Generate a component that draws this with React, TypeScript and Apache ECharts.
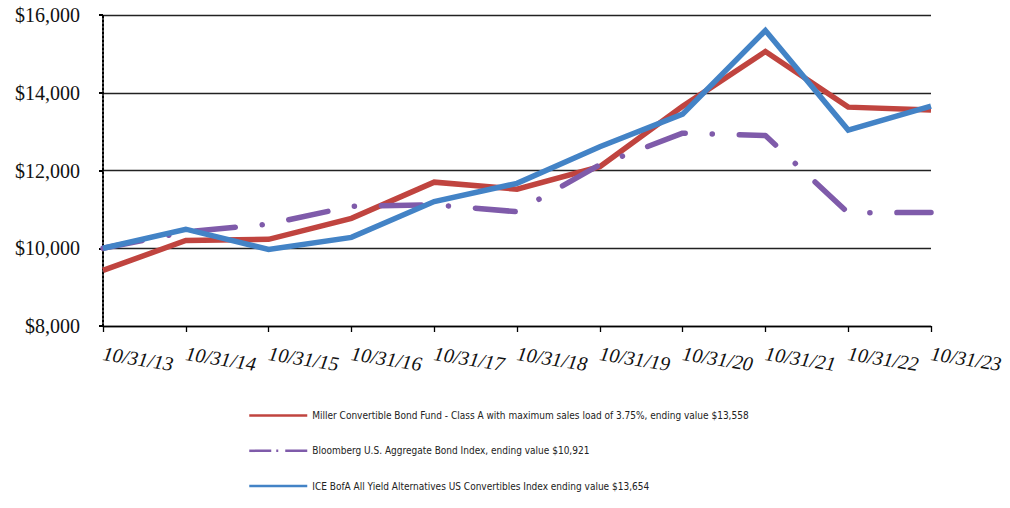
import React, { useEffect, useRef } from "react";
import * as echarts from "echarts";

const categories = [
  "10/31/13", "10/31/14", "10/31/15", "10/31/16", "10/31/17", "10/31/18",
  "10/31/19", "10/31/20", "10/31/21", "10/31/22", "10/31/23",
];
const millerValues = [9430, 10200, 10230, 10770, 11700, 11520, 12100, 13650, 15060, 13630, 13558];
const bloombergValues = [10000, 10420, 10620, 11080, 11120, 10940, 12150, 12960, 12900, 10910, 10921];
const iceValues = [10000, 10490, 9970, 10280, 11200, 11670, 12610, 13450, 15600, 13040, 13654];

const millerName = "Miller Convertible Bond Fund - Class A with maximum sales load of 3.75%, ending value $13,558";
const bloombergName = "Bloomberg U.S. Aggregate Bond Index, ending value $10,921";
const iceName = "ICE BofA All Yield Alternatives US Convertibles Index ending value $13,654";

const RED = "#C0443F";
const PURPLE = "#7F5BAA";
const BLUE = "#4383C6";

export default function App() {
  const ref = useRef<HTMLDivElement>(null);
  useEffect(() => {
    if (!ref.current) return;
    const chart = echarts.init(ref.current, null, { renderer: "svg" });
    chart.setOption({
      animation: false,
      backgroundColor: "#ffffff",
      grid: { left: 103, right: 79, top: 15, bottom: 182, containLabel: false },
      legend: {
        orient: "vertical",
        left: 248,
        top: 410,
        padding: 0,
        itemWidth: 58,
        itemHeight: 14,
        itemGap: 24,
        selectedMode: false,
        itemStyle: { opacity: 0 },
        textStyle: {
          fontFamily: "'Liberation Sans Narrow', 'DejaVu Sans Condensed', 'Liberation Sans', Arial, sans-serif",
          fontSize: 10,
          color: "#222",
        },
        data: [
          { name: millerName, lineStyle: { width: 2.5 } },
          { name: bloombergName, lineStyle: { width: 2.5, type: [22, 5, 2, 7], cap: "butt" } },
          { name: iceName, lineStyle: { width: 2.5 } },
        ],
      },
      xAxis: {
        type: "category",
        data: categories,
        boundaryGap: false,
        axisLine: { show: true, lineStyle: { color: "#000", width: 1.3 } },
        axisTick: { show: true, length: 6, inside: false, lineStyle: { color: "#000", width: 1.3 } },
        axisLabel: {
          interval: 0,
          rotate: -9,
          margin: 27,
          fontFamily: "'Liberation Serif', 'Times New Roman', serif",
          fontStyle: "italic",
          fontSize: 20,
          color: "#111",
        },
        splitLine: { show: false },
      },
      yAxis: {
        type: "value",
        min: 8000,
        max: 16000,
        interval: 2000,
        axisLine: { show: true, lineStyle: { color: "#000", width: 2, type: "dotted" } },
        axisTick: { show: true, length: 4, lineStyle: { color: "#000", width: 2 } },
        axisLabel: {
          margin: 23,
          fontFamily: "'Liberation Serif', 'Times New Roman', serif",
          fontSize: 20,
          color: "#111",
          formatter: (v: number) => "$" + v.toLocaleString("en-US"),
        },
        splitLine: { show: true, lineStyle: { color: "#222", width: 1.3 } },
      },
      series: [
        {
          name: millerName,
          type: "line",
          data: millerValues,
          symbol: "none",
          lineStyle: { color: RED, width: 5.5, join: "miter" },
          itemStyle: { color: RED },
        },
        {
          name: bloombergName,
          type: "line",
          data: bloombergValues,
          symbol: "none",
          lineStyle: { color: PURPLE, width: 5.5, type: [40, 27, 0.1, 27], cap: "round", join: "round" },
          itemStyle: { color: PURPLE },
        },
        {
          name: iceName,
          type: "line",
          data: iceValues,
          symbol: "none",
          lineStyle: { color: BLUE, width: 5.5, join: "miter" },
          itemStyle: { color: BLUE },
        },
      ],
    });
    return () => chart.dispose();
  }, []);
  return (
    <div
      ref={ref}
      style={{ position: "absolute", left: 0, top: 0, width: 1010, height: 508 }}
    />
  );
}
